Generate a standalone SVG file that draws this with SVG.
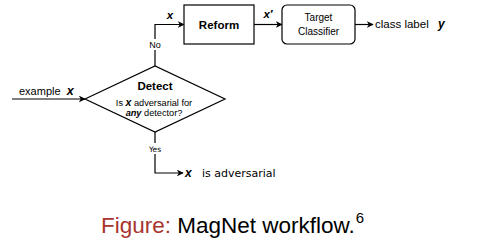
<svg xmlns="http://www.w3.org/2000/svg" width="478" height="242" viewBox="0 0 478 242">
  <defs>
    <marker id="arrow" viewBox="0 0 10 10" refX="9" refY="5" markerWidth="7" markerHeight="7" markerUnits="userSpaceOnUse" orient="auto">
      <path d="M0,0 L10,5 L0,10 L3,5 Z" fill="#000"/>
    </marker>
    <style>
      .edge { fill: none; stroke: #000; stroke-width: 1.2; marker-end: url(#arrow); }
      .shape { fill: #fff; stroke: #000; stroke-width: 1.2; }
      .t { font-family: "Liberation Sans", Arial, sans-serif; fill: #000; }
      .v { font-family: "DejaVu Sans", Verdana, sans-serif; fill: #000; }
      .var { font-weight: bold; font-style: italic; }
      .lbl { fill: #fff; }
    </style>
  </defs>

  <!-- connectors -->
  <g id="connectors">
    <path class="edge" d="M12,99 H85"/>
    <path class="edge" d="M155,66 V24.5 H184"/>
    <path class="edge" d="M254,24.5 H282"/>
    <path class="edge" d="M355,24.5 H373"/>
    <path class="edge" d="M155,132 V173 H183"/>
    <!-- edge labels -->
    <rect class="lbl" x="148" y="39" width="14" height="11"/>
    <text class="t" x="155" y="48" font-size="9" text-anchor="middle">No</text>
    <rect class="lbl" x="147" y="143" width="16" height="11"/>
    <text class="v" x="155" y="152" font-size="7.5" text-anchor="middle">Yes</text>
    <text class="t var" x="170" y="19" font-size="11.5" text-anchor="middle">x</text>
    <text class="t var" x="268" y="18" font-size="11.5" text-anchor="middle">x′</text>
  </g>

  <!-- input -->
  <g id="input">
    <text class="t" x="19" y="95" font-size="11">example <tspan class="var" dx="3" font-size="12.5">x</tspan></text>
  </g>

  <!-- decision node -->
  <g id="detect">
    <polygon class="shape" points="85,99 155,66 225,99 155,132"/>
    <text class="t" x="155" y="90" font-size="11.5" font-weight="bold" text-anchor="middle">Detect</text>
    <text class="t" x="154" y="105.5" font-size="9.2" text-anchor="middle">Is <tspan class="var" font-size="10.5">x</tspan> adversarial for</text>
    <text class="t" x="154" y="115.5" font-size="9.2" text-anchor="middle"><tspan class="var">any</tspan> detector?</text>
  </g>

  <!-- reformer node -->
  <g id="reform">
    <rect class="shape" x="184" y="5" width="70" height="39"/>
    <text class="t" x="219" y="29" font-size="11.5" font-weight="bold" text-anchor="middle">Reform</text>
  </g>

  <!-- classifier node -->
  <g id="classifier">
    <rect class="shape" x="282" y="5" width="73" height="39" rx="5" ry="5"/>
    <text class="t" x="318.5" y="21" font-size="10" text-anchor="middle">Target</text>
    <text class="t" x="318.5" y="34.5" font-size="10" text-anchor="middle">Classifier</text>
  </g>

  <!-- output label -->
  <g id="output">
    <text class="t" x="375" y="28" font-size="11.5">class label <tspan class="var" dx="6" font-size="12">y</tspan></text>
  </g>

  <!-- adversarial outcome -->
  <g id="adversarial">
    <text class="t var" x="185" y="176.5" font-size="12">x</text>
    <text class="v" x="202" y="176.5" font-size="11">is adversarial</text>
  </g>

  <!-- caption -->
  <g id="caption">
    <text class="t" x="101" y="233" font-size="22.5"><tspan fill="#a8352f">Figure:</tspan> MagNet workflow.<tspan font-size="15" dx="1" dy="-10">6</tspan></text>
  </g>
</svg>
